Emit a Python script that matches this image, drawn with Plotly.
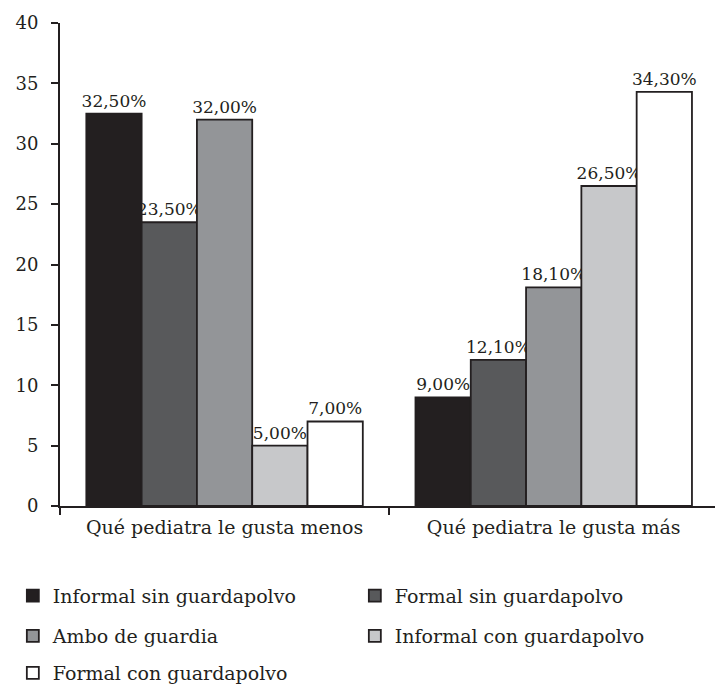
import plotly.graph_objects as go

# Survey results: which pediatrician children like least / most, by clothing style
categories = ["Qué pediatra le gusta menos", "Qué pediatra le gusta más"]

series_names = [
    "Informal sin guardapolvo",
    "Formal sin guardapolvo",
    "Ambo de guardia",
    "Informal con guardapolvo",
    "Formal con guardapolvo",
]

informal_sin = [32.5, 9.0]
formal_sin = [23.5, 12.1]
ambo_guardia = [32.0, 18.1]
informal_con = [5.0, 26.5]
formal_con = [7.0, 34.3]

series_values = [informal_sin, formal_sin, ambo_guardia, informal_con, formal_con]

y_ticks = [0, 5, 10, 15, 20, 25, 30, 35, 40]

fills = ["#231f20", "#58595b", "#939598", "#c7c8ca", "#ffffff"]
ink = "#231f20"
serif = "DejaVu Serif"

# one legend per row so the rows can be spaced apart like the printed figure
legend_ids = ["legend", "legend", "legend2", "legend2", "legend3"]

fig = go.Figure()
for name, vals, fill, leg in zip(series_names, series_values, fills, legend_ids):
    fig.add_trace(go.Bar(
        x=categories,
        y=vals,
        name=name,
        legend=leg,
        marker=dict(color=fill, line=dict(color=ink, width=1.8)),
        texttemplate="%{y:.2f}%",
        textposition="outside",
        constraintext="none",
        cliponaxis=False,
        textfont=dict(family=serif, size=17, color=ink),
    ))

row_font = dict(family=serif, size=19, color=ink)
common_legend = dict(
    orientation="h",
    xanchor="left",
    yanchor="middle",
    entrywidth=297,
    entrywidthmode="pixels",
    font=row_font,
    bgcolor="rgba(0,0,0,0)",
    traceorder="normal",
)

fig.update_layout(
    width=715,
    height=692,
    margin=dict(l=60, r=0, t=23, b=179),
    paper_bgcolor="white",
    plot_bgcolor="white",
    separators=",.",
    barmode="group",
    bargap=0.16,
    bargroupgap=0,
    font=dict(family=serif, size=17, color=ink),
    legend=dict(common_legend, x=-0.072, y=-0.186),
    legend2=dict(common_legend, x=-0.072, y=-0.269),
    legend3=dict(common_legend, x=-0.072, y=-0.347),
    xaxis=dict(
        type="category",
        range=[-0.5, 1.49],
        showline=True,
        linecolor=ink,
        linewidth=2,
        ticks="outside",
        tickson="boundaries",
        ticklen=7,
        tickwidth=2,
        tickcolor=ink,
        showgrid=False,
        ticklabelstandoff=3,
        tickfont=dict(family=serif, size=19, color=ink),
    ),
    yaxis=dict(
        range=[0, 40],
        tickmode="array",
        tickvals=y_ticks,
        ticktext=[str(t) for t in y_ticks],
        showline=True,
        linecolor=ink,
        linewidth=2,
        ticks="outside",
        ticklen=7,
        tickwidth=2,
        tickcolor=ink,
        showgrid=False,
        zeroline=False,
        ticklabelstandoff=9,
        tickfont=dict(family=serif, size=18, color=ink),
    ),
)

fig.write_html("out.html")
